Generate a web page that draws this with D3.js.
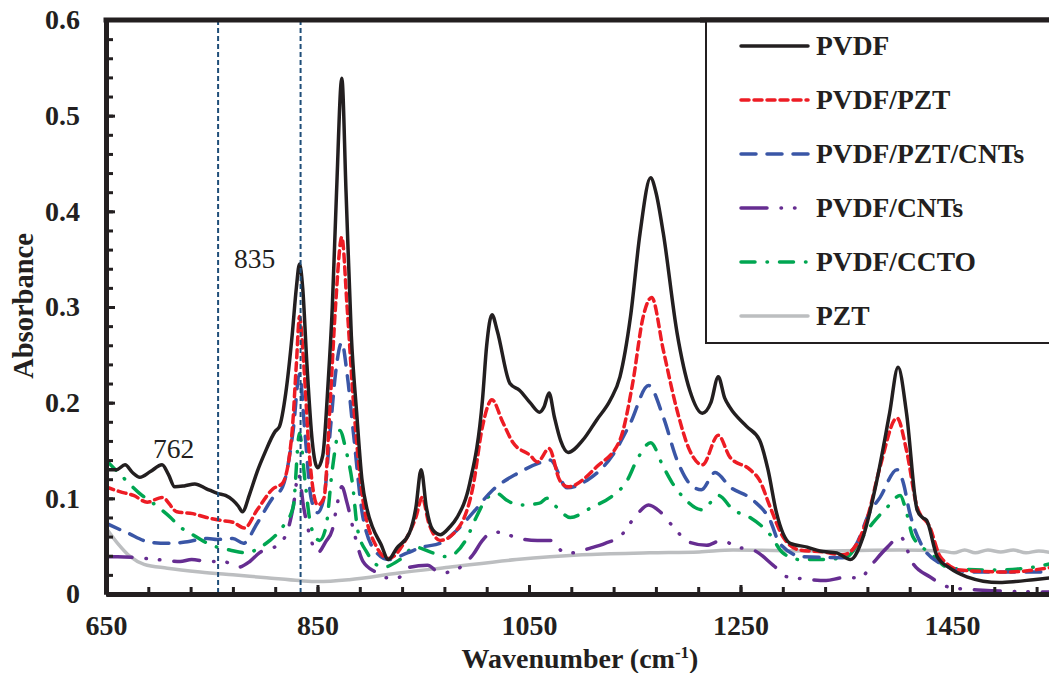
<!DOCTYPE html>
<html>
<head>
<meta charset="utf-8">
<script src="https://cdn.jsdelivr.net/npm/d3@7"></script>
<style>
  body { margin: 0; background: #fff; }
  svg { display: block; font-family: "Liberation Serif", "Times New Roman", serif; }
</style>
</head>
<body>
<svg id="chart" width="1049" height="673"></svg>
<script>
// [wavenumber, absorbance]
const pvdf = [
  [650,0.13],[660,0.13],[668,0.135],[675,0.127],[682,0.122],[692,0.128],[703,0.135],[709,0.125],
  [715,0.112],[724,0.113],[734,0.115],[745,0.11],[756,0.105],[763,0.103],[770,0.098],[775,0.092],
  [779,0.086],[786,0.105],[793,0.128],[800,0.147],[810,0.17],[814,0.175],[820,0.21],[826,0.27],
  [830,0.32],[833,0.345],[836,0.32],[840,0.24],[845,0.16],[850,0.132],[855,0.145],[860,0.22],
  [864,0.3],[868,0.42],[873,0.539],[877,0.42],[882,0.27],[887,0.19],[892,0.12],[897,0.088],
  [902,0.07],[910,0.052],[917,0.036],[925,0.048],[937,0.064],[943,0.09],[948,0.13],[953,0.09],
  [959,0.067],[966,0.062],[975,0.07],[982,0.08],[994,0.116],[1006,0.203],[1010,0.26],[1015,0.292],
  [1020,0.275],[1032,0.22],[1041,0.213],[1051,0.2],[1060,0.19],[1064,0.195],[1069,0.21],[1074,0.185],
  [1080,0.16],[1087,0.148],[1101,0.161],[1114,0.182],[1127,0.203],[1136,0.227],[1146,0.29],[1155,0.377],
  [1165,0.435],[1170,0.42],[1177,0.377],[1190,0.273],[1202,0.213],[1214,0.189],[1222,0.2],[1229,0.227],
  [1235,0.205],[1240,0.195],[1256,0.175],[1268,0.161],[1276,0.13],[1284,0.085],[1297,0.053],[1313,0.049],
  [1325,0.045],[1341,0.043],[1354,0.036],[1366,0.06],[1379,0.119],[1391,0.189],[1399,0.237],[1407,0.189],
  [1417,0.088],[1422,0.08],[1426,0.077],[1436,0.039],[1448,0.027],[1464,0.018],[1495,0.012],[1510,0.013],
  [1527,0.015],[1545,0.017]
];

const pvdfPzt = [
  [650,0.112],[663,0.107],[676,0.103],[689,0.096],[703,0.101],[717,0.086],[732,0.084],[745,0.08],
  [758,0.077],[770,0.075],[781,0.069],[793,0.088],[808,0.11],[817,0.116],[826,0.17],[830,0.24],
  [833,0.29],[837,0.24],[842,0.15],[850,0.093],[856,0.1],[862,0.2],[867,0.3],[873,0.373],
  [878,0.3],[884,0.2],[893,0.098],[906,0.049],[917,0.037],[935,0.06],[943,0.08],[949,0.101],
  [955,0.075],[959,0.064],[966,0.056],[985,0.072],[997,0.112],[1006,0.175],[1015,0.203],[1025,0.18],
  [1035,0.158],[1051,0.145],[1058,0.138],[1069,0.152],[1079,0.119],[1087,0.112],[1114,0.133],[1136,0.161],
  [1148,0.22],[1158,0.29],[1166,0.31],[1177,0.255],[1190,0.192],[1202,0.15],[1214,0.135],[1229,0.166],
  [1240,0.143],[1259,0.13],[1268,0.119],[1278,0.091],[1290,0.06],[1306,0.046],[1328,0.044],[1347,0.041],
  [1358,0.049],[1370,0.08],[1382,0.133],[1398,0.184],[1407,0.15],[1417,0.091],[1429,0.07],[1439,0.039],
  [1458,0.025],[1502,0.023],[1545,0.028]
];

const pvdfPztCnt = [
  [650,0.074],[670,0.064],[692,0.054],[708,0.053],[723,0.054],[746,0.058],[755,0.057],[770,0.058],
  [780,0.053],[793,0.074],[808,0.101],[817,0.112],[827,0.171],[833,0.23],[838,0.17],[844,0.1],
  [850,0.085],[856,0.1],[862,0.17],[867,0.23],[873,0.263],[878,0.23],[884,0.168],[893,0.08],
  [906,0.043],[917,0.036],[935,0.043],[949,0.049],[966,0.053],[982,0.067],[997,0.085],[1016,0.109],
  [1039,0.126],[1060,0.137],[1070,0.14],[1086,0.111],[1105,0.119],[1129,0.145],[1146,0.179],[1163,0.218],
  [1177,0.185],[1190,0.14],[1205,0.112],[1213,0.109],[1226,0.127],[1240,0.112],[1262,0.098],[1278,0.077],
  [1287,0.053],[1309,0.039],[1347,0.038],[1360,0.053],[1372,0.085],[1382,0.101],[1398,0.13],[1404,0.116],
  [1410,0.085],[1420,0.054],[1439,0.032],[1470,0.023],[1545,0.023]
];

const pvdfCnt = [
  [650,0.039],[661,0.039],[689,0.037],[708,0.035],[720,0.034],[731,0.036],[746,0.034],[761,0.034],
  [775,0.028],[786,0.034],[795,0.043],[812,0.051],[821,0.064],[827,0.091],[832,0.125],[837,0.09],
  [843,0.06],[850,0.043],[858,0.055],[864,0.067],[868,0.09],[873,0.112],[878,0.095],[884,0.067],
  [893,0.034],[906,0.022],[912,0.017],[926,0.017],[937,0.028],[954,0.03],[966,0.022],[975,0.023],
  [997,0.041],[1006,0.056],[1016,0.065],[1024,0.064],[1041,0.058],[1058,0.056],[1072,0.056],[1082,0.044],
  [1091,0.043],[1108,0.048],[1122,0.053],[1136,0.06],[1152,0.083],[1163,0.093],[1174,0.086],[1185,0.072],
  [1202,0.054],[1218,0.051],[1232,0.056],[1247,0.049],[1262,0.046],[1281,0.03],[1294,0.018],[1309,0.016],
  [1331,0.014],[1347,0.017],[1363,0.017],[1375,0.032],[1389,0.049],[1401,0.06],[1413,0.032],[1429,0.018],
  [1448,0.007],[1479,0.004],[1545,0.002]
];

const pvdfCcto = [
  [650,0.14],[666,0.122],[682,0.105],[698,0.092],[711,0.08],[720,0.07],[729,0.064],[746,0.053],
  [755,0.049],[767,0.046],[783,0.043],[796,0.049],[805,0.056],[817,0.07],[827,0.091],[833,0.168],
  [838,0.12],[844,0.07],[852,0.056],[858,0.07],[864,0.13],[871,0.171],[877,0.15],[883,0.116],
  [888,0.067],[897,0.043],[912,0.028],[928,0.036],[942,0.049],[959,0.043],[972,0.039],[991,0.058],
  [1000,0.08],[1011,0.101],[1020,0.105],[1029,0.098],[1041,0.093],[1060,0.095],[1067,0.1],[1076,0.091],
  [1089,0.08],[1110,0.091],[1127,0.101],[1143,0.119],[1152,0.14],[1165,0.158],[1177,0.133],[1185,0.117],
  [1196,0.101],[1214,0.088],[1229,0.103],[1243,0.088],[1259,0.08],[1278,0.062],[1290,0.043],[1306,0.036],
  [1328,0.036],[1351,0.039],[1363,0.056],[1375,0.074],[1389,0.091],[1401,0.103],[1407,0.085],[1413,0.06],
  [1429,0.043],[1448,0.027],[1486,0.025],[1520,0.027],[1545,0.032]
];

const pzt = [
  [650,0.069],[661,0.053],[673,0.039],[686,0.031],[708,0.027],[739,0.023],[770,0.02],[802,0.017],
  [833,0.014],[850,0.013],[880,0.015],[927,0.022],[974,0.028],[1038,0.036],[1100,0.041],[1164,0.043],
  [1211,0.044],[1243,0.046],[1322,0.045],[1400,0.046],[1440,0.045],[1452,0.043],[1462,0.046],[1472,0.043],
  [1484,0.046],[1496,0.044],[1508,0.046],[1520,0.043],[1532,0.045],[1545,0.043]
];

const seriesNames = ['PVDF', 'PVDF/PZT', 'PVDF/PZT/CNTs', 'PVDF/CNTs', 'PVDF/CCTO', 'PZT'];
const seriesData = [pvdf, pvdfPzt, pvdfPztCnt, pvdfCnt, pvdfCcto, pzt];
const markerLines = [756, 834];
const xMajor = [650, 850, 1050, 1250, 1450];
const xMinor = d3.range(650, 1560, 40);
const yMajor = [0, 0.1, 0.2, 0.3, 0.4, 0.5, 0.6];
const yMinor = d3.range(0, 0.601, 0.02);

const styles = [
  { color: '#231f20', dash: null },
  { color: '#ed1c24', dash: '8,5' },
  { color: '#3a56a6', dash: '15,11' },
  { color: '#662d91', dash: '26,14,0.5,13,0.5,14' },
  { color: '#00a651', dash: '14,12,0.5,12' },
  { color: '#bcbec0', dash: null }
];

const plotLeft = 106, plotTop = 20, plotBottom = 594;
const x = d3.scaleLinear().domain([650, 1550]).range([plotLeft, plotLeft + 900 * 1.0575]);
const y = d3.scaleLinear().domain([0, 0.6]).range([plotBottom, plotTop]);

const svg = d3.select('#chart');

svg.append('clipPath').attr('id', 'plot')
  .append('rect').attr('x', plotLeft).attr('y', plotTop).attr('width', 1000).attr('height', plotBottom - plotTop);

const line = d3.line()
  .x(d => x(d[0]))
  .y(d => y(d[1]))
  .curve(d3.curveMonotoneX);

const g = svg.append('g').attr('clip-path', 'url(#plot)');

// draw gray first, black last
[5, 3, 4, 2, 1, 0].forEach(i => {
  g.append('path')
    .datum(seriesData[i])
    .attr('d', line)
    .attr('fill', 'none')
    .attr('stroke', styles[i].color)
    .attr('stroke-width', 3.5)
    .attr('stroke-linecap', styles[i].dash ? 'round' : 'butt')
    .attr('stroke-linejoin', 'round')
    .attr('stroke-dasharray', styles[i].dash);
});

g.selectAll('.marker')
  .data(markerLines)
  .enter()
  .append('line')
  .attr('x1', d => x(d)).attr('x2', d => x(d))
  .attr('y1', plotTop).attr('y2', plotBottom)
  .attr('stroke', '#1f4e79')
  .attr('stroke-width', 2)
  .attr('stroke-dasharray', '5,3');

// axes
const xMinorAxis = svg.append('g')
  .attr('transform', `translate(0,${plotBottom})`)
  .call(d3.axisBottom(x).tickValues(xMinor).tickSizeInner(-7).tickSizeOuter(0).tickFormat(''));
const xAxis = svg.append('g')
  .attr('transform', `translate(0,${plotBottom})`)
  .call(d3.axisBottom(x).tickValues(xMajor).tickSizeInner(-9).tickSizeOuter(0).tickPadding(21)
    .tickFormat(d3.format('d')));

const yMinorAxis = svg.append('g')
  .attr('transform', `translate(${plotLeft},0)`)
  .call(d3.axisLeft(y).tickValues(yMinor).tickSizeInner(-7).tickSizeOuter(0).tickFormat(''));
const yAxis = svg.append('g')
  .attr('transform', `translate(${plotLeft},0)`)
  .call(d3.axisLeft(y).tickValues(yMajor).tickSizeInner(-9).tickSizeOuter(0).tickPadding(26)
    .tickFormat(d => d === 0 ? '0' : d.toFixed(1)));

[xMinorAxis, xAxis, yMinorAxis, yAxis].forEach(a => {
  a.select('.domain').attr('stroke', '#231f20').attr('stroke-width', 5);
  a.selectAll('.tick line').attr('stroke', '#231f20').attr('stroke-width', 3);
  a.selectAll('.tick text')
    .attr('fill', '#231f20')
    .attr('font-family', '"Liberation Serif", "Times New Roman", serif')
    .attr('font-weight', 'bold')
    .attr('font-size', '28px');
});

// top frame line
svg.append('line')
  .attr('x1', plotLeft - 2.5).attr('x2', 1049)
  .attr('y1', plotTop).attr('y2', plotTop)
  .attr('stroke', '#231f20').attr('stroke-width', 5);

// legend
const legend = svg.append('g');
legend.append('rect')
  .attr('x', 706).attr('y', plotTop).attr('width', 400).attr('height', 343 - plotTop)
  .attr('fill', '#fff').attr('stroke', '#231f20').attr('stroke-width', 2);
svg.append('line')
  .attr('x1', 700).attr('x2', 1049)
  .attr('y1', plotTop).attr('y2', plotTop)
  .attr('stroke', '#231f20').attr('stroke-width', 5);

seriesNames.forEach((name, i) => {
  const ly = 46 + i * 54;
  legend.append('line')
    .attr('x1', 741).attr('x2', 808)
    .attr('y1', ly).attr('y2', ly)
    .attr('stroke', styles[i].color)
    .attr('stroke-width', 3.5)
    .attr('stroke-linecap', 'round')
    .attr('stroke-dasharray', styles[i].dash);
  legend.append('text')
    .attr('x', 816).attr('y', ly + 9)
    .attr('font-weight', 'bold')
    .attr('font-size', '27.5px')
    .attr('fill', '#231f20')
    .text(name);
});

// axis titles
svg.append('text')
  .attr('transform', 'translate(33,306) rotate(-90)')
  .attr('text-anchor', 'middle')
  .attr('font-weight', 'bold')
  .attr('font-size', '28.5px')
  .attr('fill', '#231f20')
  .text('Absorbance');

const xt = svg.append('text')
  .attr('x', 580).attr('y', 668)
  .attr('text-anchor', 'middle')
  .attr('font-weight', 'bold')
  .attr('font-size', '28px')
  .attr('fill', '#231f20');
xt.append('tspan').text('Wavenumber (cm');
xt.append('tspan').attr('dy', -10).attr('font-size', '17px').text('-1');
xt.append('tspan').attr('dy', 10).text(')');

// peak labels
svg.append('text').attr('x', 153).attr('y', 458)
  .attr('font-size', '27.5px').attr('fill', '#231f20').text('762');
svg.append('text').attr('x', 234).attr('y', 268)
  .attr('font-size', '27.5px').attr('fill', '#231f20').text('835');
</script>
</body>
</html>
